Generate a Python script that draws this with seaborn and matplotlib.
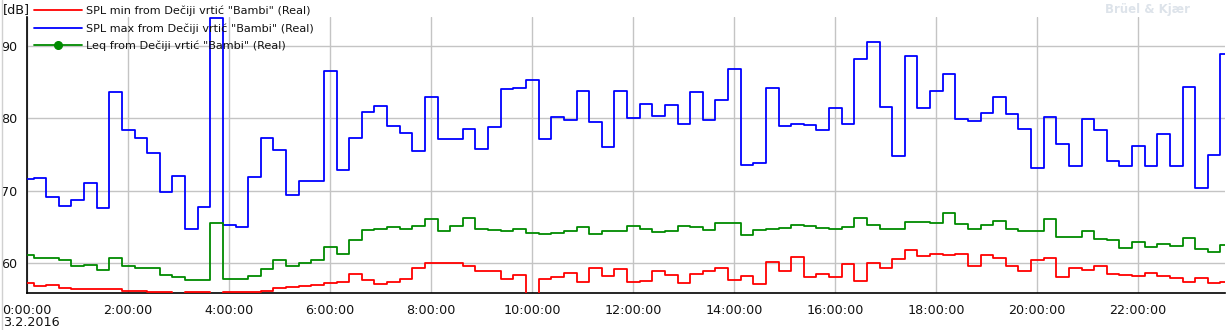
import numpy as np
import pandas as pd
import matplotlib
matplotlib.use("Agg")
import matplotlib.pyplot as plt
import seaborn as sns
from matplotlib.lines import Line2D
from matplotlib.legend_handler import HandlerLine2D
from matplotlib.ticker import MultipleLocator, FixedLocator

# ---- data (15-minute intervals, hours since midnight 3.2.2016) ----
first_edge_h = 0.13      # first interval boundary after 0:00
interval_h = 0.25        # 15 min

spl_min = [57.23, 56.86, 56.95, 56.58, 56.40, 56.40, 56.40, 56.40, 56.17, 56.17,
           56.03, 56.03, 55.50, 55.98, 55.98, 55.50, 55.98, 55.98, 55.98, 56.20,
           56.54, 56.72, 56.86, 57.00, 57.23, 57.41, 58.52, 57.65, 57.09, 57.41,
           57.78, 59.31, 60.00, 60.00, 60.00, 59.58, 58.94, 58.94, 57.78, 58.38,
           55.50, 57.78, 58.06, 58.61, 57.41, 59.31, 58.20, 59.17, 57.46, 57.55,
           58.89, 58.34, 57.23, 58.48, 58.89, 59.31, 57.65, 58.20, 57.09, 60.14,
           58.89, 60.83, 58.06, 58.48, 58.15, 59.86, 57.55, 60.00, 59.31, 60.55,
           61.80, 60.97, 61.25, 61.11, 61.25, 59.58, 61.11, 60.69, 59.58, 58.89,
           60.42, 60.69, 58.06, 59.31, 59.03, 59.58, 58.48, 58.34, 58.20, 58.61,
           58.20, 57.92, 57.41, 57.92, 57.23, 57.41]

spl_max = [71.60, 71.74, 69.11, 67.87, 68.70, 71.05, 67.59, 83.66, 78.43, 77.33,
           75.21, 69.80, 72.02, 64.68, 67.73, 93.90, 65.24, 64.96, 71.87, 77.29,
           75.63, 69.43, 71.33, 71.33, 86.56, 72.90, 77.28, 80.93, 81.71, 78.95,
           77.98, 75.53, 82.96, 77.14, 77.14, 78.53, 75.76, 78.81, 84.07, 84.21,
           85.32, 77.14, 80.19, 79.78, 83.79, 79.50, 76.04, 83.74, 80.06, 82.00,
           80.33, 81.86, 79.22, 83.65, 79.78, 82.55, 86.84, 73.55, 73.83, 84.21,
           78.95, 79.22, 79.09, 78.39, 81.44, 79.22, 88.23, 90.58, 81.58, 74.79,
           88.60, 81.44, 83.79, 86.19, 79.92, 79.64, 80.74, 82.96, 80.60, 78.53,
           73.13, 80.19, 76.45, 73.40, 79.92, 78.39, 74.10, 73.40, 76.18, 73.40,
           77.84, 73.40, 84.35, 70.44, 75.00, 88.90]

leq = [61.15, 60.69, 60.69, 60.42, 59.58, 59.72, 59.03, 60.69, 59.58, 59.31,
       59.31, 58.34, 58.06, 57.65, 57.65, 65.54, 57.78, 57.78, 58.20, 59.17,
       60.42, 59.58, 60.00, 60.42, 62.22, 61.25, 63.19, 64.57, 64.71, 64.99,
       64.71, 65.12, 66.09, 64.43, 65.12, 66.23, 64.71, 64.57, 64.43, 64.71,
       64.16, 64.02, 64.16, 64.43, 64.99, 64.02, 64.43, 64.50, 65.12, 64.71,
       64.29, 64.43, 65.12, 64.99, 64.57, 65.54, 65.54, 63.88, 64.57, 64.71,
       64.85, 65.26, 65.12, 64.85, 64.71, 64.99, 66.23, 65.26, 64.71, 64.71,
       65.68, 65.68, 65.54, 66.93, 65.40, 64.71, 65.26, 65.82, 64.71, 64.43,
       64.43, 66.09, 63.60, 63.60, 64.43, 63.32, 63.19, 62.08, 62.91, 62.22,
       62.63, 62.35, 63.46, 61.94, 61.52, 62.49]

series_names = ['SPL min from Dečiji vrtić "Bambi" (Real)',
                'SPL max from Dečiji vrtić "Bambi" (Real)',
                'Leq from Dečiji vrtić "Bambi" (Real)']
series_colors = ["#ff0000", "#0000ff", "#008a00"]

tick_hours = list(range(0, 24, 2))
tick_labels = [f"{h}:00:00" for h in tick_hours]
date_label = "3.2.2016"

# ---- build long table ----
n = len(spl_min)
starts = first_edge_h + interval_h * (np.arange(n) - 1)
t = np.append(starts, starts[-1] + interval_h)
frames = []
for name, vals in zip(series_names, [spl_min, spl_max, leq]):
    v = list(vals) + [vals[-1]]
    frames.append(pd.DataFrame({"t": t, "v": v, "series": name}))
df = pd.concat(frames, ignore_index=True)

# ---- figure ----
sns.set_style("white")
plt.rcParams["font.family"] = ["DejaVu Sans"]
W, H = 1230, 330
fig = plt.figure(figsize=(W / 100, H / 100), dpi=100)
ax_left, ax_right, ax_bottom, ax_top = 27, 1225, 293.3, 17
ax = fig.add_axes([ax_left / W, 1 - ax_bottom / H,
                   (ax_right - ax_left) / W, (ax_bottom - ax_top) / H])

for name, col in zip(series_names, series_colors):
    sub = df[df["series"] == name]
    sns.lineplot(data=sub, x="t", y="v", ax=ax, color=col, lw=1.3,
                 drawstyle="steps-post", legend=False, zorder=3)

ax.set_xlim(0, 23.72)
ax.set_ylim(55.85, 94.0)
ax.set_xlabel("")
ax.set_ylabel("")

ax.xaxis.set_major_locator(FixedLocator(tick_hours))
ax.set_xticklabels(tick_labels)
ax.xaxis.set_minor_locator(MultipleLocator(1 / 3))
ax.yaxis.set_major_locator(FixedLocator([60, 70, 80, 90]))

ax.grid(True, which="major", color="#c4c4c4", lw=1.0, zorder=0)
ax.set_axisbelow(True)
for s in ["top", "right"]:
    ax.spines[s].set_visible(False)
for s in ["left", "bottom"]:
    ax.spines[s].set_color("black")
    ax.spines[s].set_linewidth(1.2)

ax.tick_params(axis="both", which="major", direction="out", length=5,
               width=1, color="#333333", labelsize=9.2, labelcolor="#111111")
ax.tick_params(axis="x", which="minor", direction="out", length=3,
               width=0.8, color="#333333")
ax.tick_params(axis="x", which="major", pad=3)
ax.tick_params(axis="y", which="major", pad=2)

# ---- legend ----
class LeftMarkerHandler(HandlerLine2D):
    def get_xdata(self, legend, xdescent, ydescent, width, height, fontsize):
        xdata = np.array([-xdescent, -xdescent + width])
        return xdata, np.array([-xdescent + 0.07 * width])

handles = [Line2D([], [], color=series_colors[0], lw=1.3),
           Line2D([], [], color=series_colors[1], lw=1.3),
           Line2D([], [], color=series_colors[2], lw=1.3, marker="o",
                  markersize=5.5, markerfacecolor=series_colors[2],
                  markeredgecolor=series_colors[2])]
leg = fig.legend(handles, series_names, loc="upper left",
                 bbox_to_anchor=(34 / W, 1 - 5.5 / H), frameon=False,
                 fontsize=8.1, handlelength=4.3, handletextpad=0.33,
                 labelspacing=0.64, borderpad=0, borderaxespad=0,
                 handler_map={handles[2]: LeftMarkerHandler()})
for txt in leg.get_texts():
    txt.set_color("#111111")

# ---- extra text ----
fig.text(3 / W, 1 - 10 / H, "[dB]", fontsize=9.2, color="#111111",
         ha="left", va="center")
fig.text(3 / W, 1 - 322 / H, date_label, fontsize=9.2, color="#111111",
         ha="left", va="center")
fig.text(1190 / W, 1 - 10 / H, "Brüel & Kjær", fontsize=8.5, color="#dde3ea",
         fontweight="bold", ha="right", va="center")
fig.add_artist(Line2D([1.5 / W, 1.5 / W], [0, 1], transform=fig.transFigure,
                      color="#d0d0d0", lw=1))

fig.savefig("out.png", dpi=100)
